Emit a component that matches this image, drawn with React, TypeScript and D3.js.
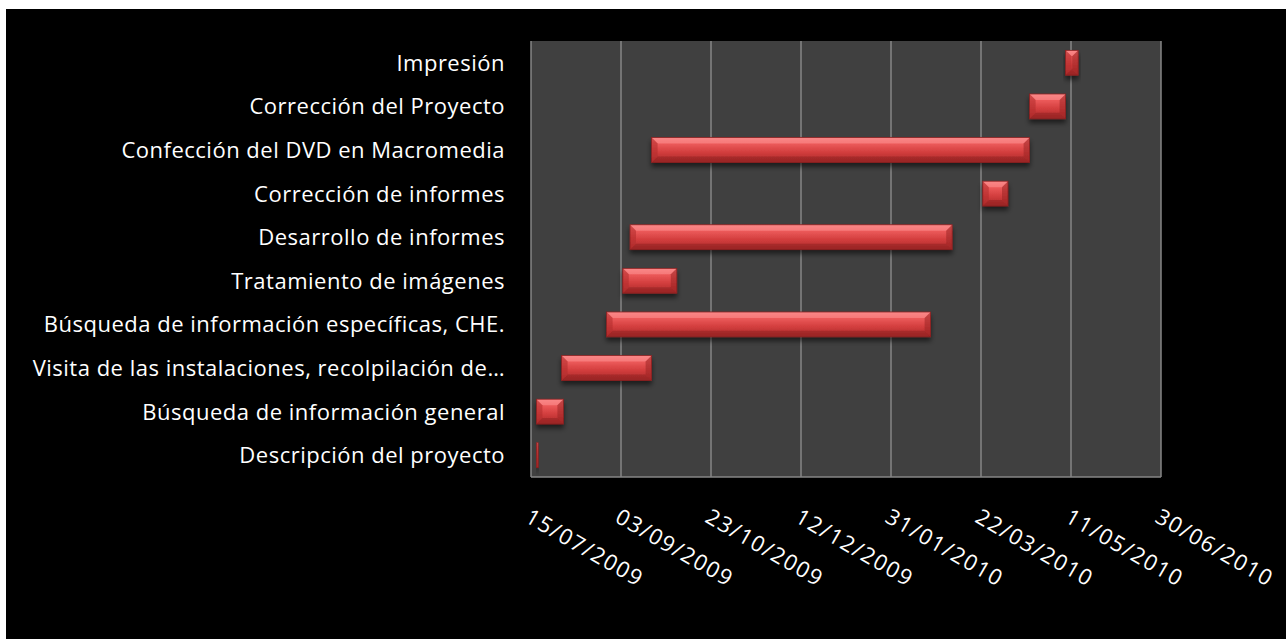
import * as d3 from 'd3';
import React, { useEffect, useRef } from 'react';

// tasks, bottom to top as drawn
const tasks = [
  'Descripción del proyecto',
  'Búsqueda de información general',
  'Visita de las instalaciones, recolpilación de…',
  'Búsqueda de información específicas, CHE.',
  'Tratamiento de imágenes',
  'Desarrollo de informes',
  'Corrección de informes',
  'Confección del DVD en Macromedia',
  'Corrección del Proyecto',
  'Impresión',
];
const starts = [
  '2009-07-18', '2009-07-18', '2009-08-01', '2009-08-26', '2009-09-04',
  '2009-09-08', '2010-03-23', '2009-09-20', '2010-04-18', '2010-05-08',
];
const durations = [1, 15, 50, 180, 30, 179, 14, 210, 20, 7];
const tickLabels = [
  '15/07/2009', '03/09/2009', '23/10/2009', '12/12/2009',
  '31/01/2010', '22/03/2010', '11/05/2010', '30/06/2010',
];

const W = 1286, H = 639;
const font = '"Open Sans", Lato, sans-serif';

export default function App() {
  const ref = useRef<SVGSVGElement>(null);

  useEffect(() => {
    const svg = d3.select(ref.current);
    svg.selectAll('*').remove();

    const parseTick = d3.utcParse('%d/%m/%Y');
    const parseDay = d3.utcParse('%Y-%m-%d');
    const ticks = tickLabels.map(t => parseTick(t) as Date);

    const left = 531, right = 1161, top = 41, bottom = 477;

    const x = d3.scaleUtc()
      .domain([ticks[0], ticks[ticks.length - 1]])
      .range([left, right]);
    const y = d3.scaleBand()
      .domain(tasks.slice().reverse())
      .range([top, bottom])
      .paddingInner(0.43)
      .paddingOuter(0.215);

    const defs = svg.append('defs');
    const grad = defs.append('linearGradient')
      .attr('id', 'barGrad')
      .attr('x1', 0).attr('y1', 0).attr('x2', 0).attr('y2', 1);
    grad.append('stop').attr('offset', '0%').attr('stop-color', '#f47a7a');
    grad.append('stop').attr('offset', '25%').attr('stop-color', '#ec5a5a');
    grad.append('stop').attr('offset', '60%').attr('stop-color', '#d23d3d');
    grad.append('stop').attr('offset', '100%').attr('stop-color', '#a82a2a');

    const shadow = defs.append('filter')
      .attr('id', 'shadow')
      .attr('x', '-20%').attr('y', '-20%').attr('width', '140%').attr('height', '160%');
    shadow.append('feGaussianBlur').attr('in', 'SourceAlpha').attr('stdDeviation', 2.5);
    shadow.append('feOffset').attr('dx', 0).attr('dy', 4).attr('result', 'off');
    shadow.append('feComponentTransfer').append('feFuncA').attr('type', 'linear').attr('slope', 0.55);
    const merge = shadow.append('feMerge');
    merge.append('feMergeNode');
    merge.append('feMergeNode').attr('in', 'SourceGraphic');

    // background
    svg.append('rect').attr('width', W).attr('height', H).attr('fill', '#ffffff');
    svg.append('rect').attr('x', 6).attr('y', 9).attr('width', W - 6).attr('height', H - 9).attr('fill', '#000000');

    // plot area
    svg.append('rect')
      .attr('x', left).attr('y', top)
      .attr('width', right - left).attr('height', bottom - top)
      .attr('fill', '#404040');

    // gridlines
    svg.append('g')
      .selectAll('line')
      .data(ticks)
      .join('line')
      .attr('x1', d => x(d)).attr('x2', d => x(d))
      .attr('y1', top).attr('y2', bottom)
      .attr('stroke', '#868686')
      .attr('stroke-width', 1.5);

    svg.append('line')
      .attr('x1', left).attr('x2', right)
      .attr('y1', bottom).attr('y2', bottom)
      .attr('stroke', '#868686')
      .attr('stroke-width', 1.5);

    // bars
    const bh = y.bandwidth();
    const bars = svg.append('g')
      .selectAll('g')
      .data(tasks.map((t, i) => {
        const s = parseDay(starts[i]) as Date;
        return { t, s, e: d3.utcDay.offset(s, durations[i]) };
      }))
      .join('g')
      .attr('filter', 'url(#shadow)');

    bars.each(function (d) {
      const g = d3.select(this);
      const x0 = x(d.s), x1 = x(d.e), y0 = y(d.t) as number, y1 = y0 + bh;
      const w = x1 - x0;
      const b = Math.min(6, w / 2, bh / 2);
      g.append('rect')
        .attr('x', x0).attr('y', y0).attr('width', w).attr('height', bh)
        .attr('fill', 'url(#barGrad)');
      // bevel facets
      g.append('polygon')
        .attr('points', [[x0, y0], [x1, y0], [x1 - b, y0 + b], [x0 + b, y0 + b]].join(' '))
        .attr('fill', '#ff9595').attr('opacity', 0.5);
      g.append('polygon')
        .attr('points', [[x0, y1], [x1, y1], [x1 - b, y1 - b], [x0 + b, y1 - b]].join(' '))
        .attr('fill', '#7a1a1a').attr('opacity', 0.35);
      g.append('polygon')
        .attr('points', [[x0, y0], [x0 + b, y0 + b], [x0 + b, y1 - b], [x0, y1]].join(' '))
        .attr('fill', '#b02c2c').attr('opacity', 0.55);
      g.append('polygon')
        .attr('points', [[x1, y0], [x1 - b, y0 + b], [x1 - b, y1 - b], [x1, y1]].join(' '))
        .attr('fill', '#9a2424').attr('opacity', 0.55);
      g.append('rect')
        .attr('x', x0).attr('y', y0).attr('width', w).attr('height', bh)
        .attr('fill', 'none').attr('stroke', '#8a2020').attr('stroke-width', 0.8);
    });

    // category labels
    svg.append('g')
      .selectAll('text')
      .data(tasks)
      .join('text')
      .attr('x', 505)
      .attr('y', d => (y(d) as number) + bh / 2)
      .attr('dy', '0.36em')
      .attr('text-anchor', 'end')
      .attr('fill', '#ffffff')
      .style('font-family', font)
      .style('font-size', '22px')
      .style('letter-spacing', '0.5px')
      .text(d => d);

    // date labels
    svg.append('g')
      .selectAll('text')
      .data(ticks)
      .join('text')
      .attr('transform', d => `translate(${x(d) + 1},507) rotate(30)`)
      .attr('dy', '0.75em')
      .attr('fill', '#ffffff')
      .style('font-family', font)
      .style('font-size', '22px')
      .style('letter-spacing', '1.5px')
      .text((d, i) => tickLabels[i]);
  }, []);

  return (
    <svg ref={ref} width={W} height={H}
      style={{ position: 'absolute', left: 0, top: 0, display: 'block' }} />
  );
}
